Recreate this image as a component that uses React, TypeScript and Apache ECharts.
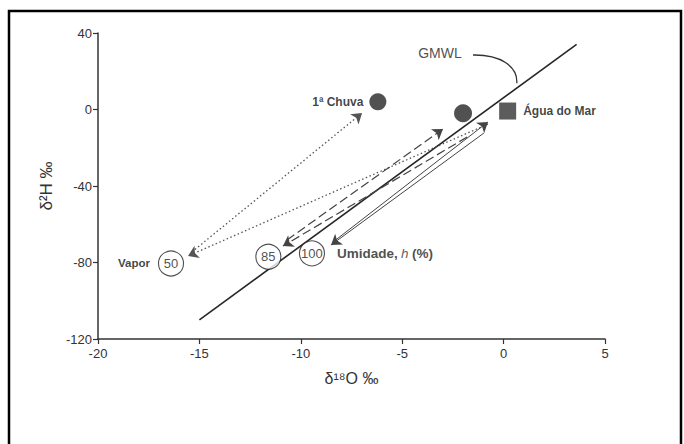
import React, { useEffect, useRef } from "react";
import * as echarts from "echarts";

// Axis ranges / ticks
const xRange = [-20, 5];
const yRange = [-120, 40];
const xStep = 5;
const yStep = 40;

// Global Meteoric Water Line (drawn segment)
const gmwlLine = [[-15, -110], [3.6, 34]];
const gmwlLabelPos = [-3.14, 29.8];
const gmwlLeader = [[-1.51, 28.5], [-0.18, 28.76], [0.71, 22.7], [0.65, 13.7]];

// Samples
const firstRain = [-6.2, 4];
const rainOnLine = [-2, -2];
const seaWater = [0.2, -0.8];

// Vapour for each relative humidity
const humidity = ["50", "85", "100"];
const vaporPoints = [[-16.4, -80.5], [-11.6, -77], [-9.45, -75.2]];

// Arrows
const dottedArrows = [
  [[-0.77, -7.6], [-15.56, -76.6]],
  [[-15.37, -74.5], [-6.98, -1.83]],
];
const dashedArrows = [
  [[-10.68, -68.2], [-2.99, -10.2]],
  [[-1.8, -14.4], [-10.88, -71.4]],
];
const solidArrows = [
  [[-8.41, -69.3], [-0.77, -6.5]],
  [[-0.97, -12.3], [-8.51, -70.85]],
];

const FONT = "'Liberation Sans', Arial, sans-serif";
const INK = "#262626";

export default function App() {
  const ref = useRef<HTMLDivElement>(null);
  useEffect(() => {
    if (!ref.current) return;
    const chart = echarts.init(ref.current, null, { renderer: "svg" });
    const arrowSeries = (data: number[][][], type: any, width: number, color: string) => ({
      type: "lines",
      coordinateSystem: "cartesian2d",
      symbol: ["none", "arrow"],
      symbolSize: [7, 10],
      silent: true,
      lineStyle: { color, width, type, opacity: 1 },
      data: data.map((c) => ({ coords: c })),
      z: 3,
    });
    const option: any = {
      animation: false,
      backgroundColor: "#ffffff",
      textStyle: { fontFamily: FONT },
      grid: { left: 98, top: 33, right: 79, bottom: 105, containLabel: false },
      xAxis: {
        type: "value",
        min: xRange[0],
        max: xRange[1],
        interval: xStep,
        name: "δ¹⁸O ‰",
        nameLocation: "middle",
        nameGap: 31,
        nameTextStyle: { fontSize: 16, color: "#333", fontFamily: FONT },
        axisLine: { show: true, onZero: false, lineStyle: { color: "#333", width: 1.5 } },
        axisTick: { show: true, length: 5, lineStyle: { color: "#333", width: 1.2 } },
        axisLabel: { fontSize: 13, color: "#333", margin: 8, fontFamily: FONT },
        splitLine: { show: false },
      },
      yAxis: {
        type: "value",
        min: yRange[0],
        max: yRange[1],
        interval: yStep,
        name: "δ²H ‰",
        nameLocation: "middle",
        nameGap: 37,
        nameRotate: 90,
        nameTextStyle: { fontSize: 17, color: "#333", fontFamily: FONT },
        axisLine: { show: true, onZero: false, lineStyle: { color: "#333", width: 1.5 } },
        axisTick: { show: true, length: 5, lineStyle: { color: "#333", width: 1.2 } },
        axisLabel: { fontSize: 13, color: "#333", margin: 6, fontFamily: FONT },
        splitLine: { show: false },
      },
      series: [
        {
          type: "line",
          data: gmwlLine,
          symbol: "none",
          lineStyle: { color: INK, width: 1.6 },
          silent: true,
          z: 2,
        },
        arrowSeries(dottedArrows, [1.5, 2.5], 1.3, "#555"),
        arrowSeries(dashedArrows, [9, 4], 1.2, "#444"),
        arrowSeries(solidArrows, "solid", 1, "#444"),
        {
          type: "scatter",
          symbol: "circle",
          symbolSize: 18,
          itemStyle: { color: INK },
          data: [
            { value: firstRain, symbolSize: 17, label: { show: true, position: "left", distance: 6, formatter: "1ª Chuva" } },
            { value: rainOnLine },
          ],
          label: { fontSize: 12, fontWeight: "bold", color: "#111", fontFamily: FONT },
          z: 4,
        },
        {
          type: "scatter",
          symbol: "rect",
          symbolSize: 17,
          itemStyle: { color: "#333" },
          data: [seaWater],
          label: {
            show: true,
            position: "right",
            distance: 7,
            formatter: "Água do Mar",
            fontSize: 12,
            fontWeight: "bold",
            color: "#111",
            fontFamily: FONT,
          },
          z: 4,
        },
        {
          type: "scatter",
          symbol: "circle",
          symbolSize: 25,
          itemStyle: { color: "#fff", borderColor: "#222", borderWidth: 1.1 },
          data: vaporPoints.map((p, i) => ({ value: p, name: humidity[i] })),
          label: {
            show: true,
            position: "inside",
            formatter: "{b}",
            fontSize: 13,
            color: "#222",
            fontFamily: FONT,
          },
          z: 5,
        },
        {
          type: "scatter",
          symbol: "circle",
          symbolSize: 2,
          itemStyle: { color: "rgba(255,255,255,0)" },
          silent: true,
          data: [
            {
              value: vaporPoints[0],
              label: { show: true, position: "left", distance: 20, formatter: "Vapor", fontSize: 11.5, fontWeight: "bold", color: "#111" },
            },
            {
              value: vaporPoints[2],
              label: {
                show: true,
                position: "right",
                distance: 24,
                formatter: "{b|Umidade,} {i|h} {b|(%)}",
                rich: {
                  b: { fontSize: 13.5, fontWeight: "bold", color: "#222", fontFamily: FONT },
                  i: { fontSize: 13.5, fontStyle: "italic", color: "#333", fontFamily: FONT },
                },
              },
            },
            {
              value: gmwlLabelPos,
              label: { show: true, position: "inside", formatter: "GMWL", fontSize: 14, color: "#222" },
            },
          ],
          label: { show: true, color: "#111", fontFamily: FONT },
          z: 6,
        },
      ],
    };
    chart.setOption(option);
    const pts = gmwlLeader.map((p) => chart.convertToPixel({ gridIndex: 0 }, p) as number[]);
    chart.setOption({
      graphic: [
        {
          type: "bezierCurve",
          shape: {
            x1: pts[0][0], y1: pts[0][1],
            cpx1: pts[1][0], cpy1: pts[1][1],
            cpx2: pts[2][0], cpy2: pts[2][1],
            x2: pts[3][0], y2: pts[3][1],
          },
          style: { stroke: "#333", lineWidth: 1.3, fill: "none" },
          silent: true,
        },
        {
          type: "rect",
          shape: { x: 9, y: 11, width: 672, height: 445 },
          style: { stroke: "#000", lineWidth: 2.5, fill: "none" },
          silent: true,
        },
      ],
    });
    return () => chart.dispose();
  }, []);
  return (
    <div
      ref={ref}
      style={{ position: "fixed", left: 0, top: 0, width: 684, height: 444, background: "#fff" }}
    />
  );
}
